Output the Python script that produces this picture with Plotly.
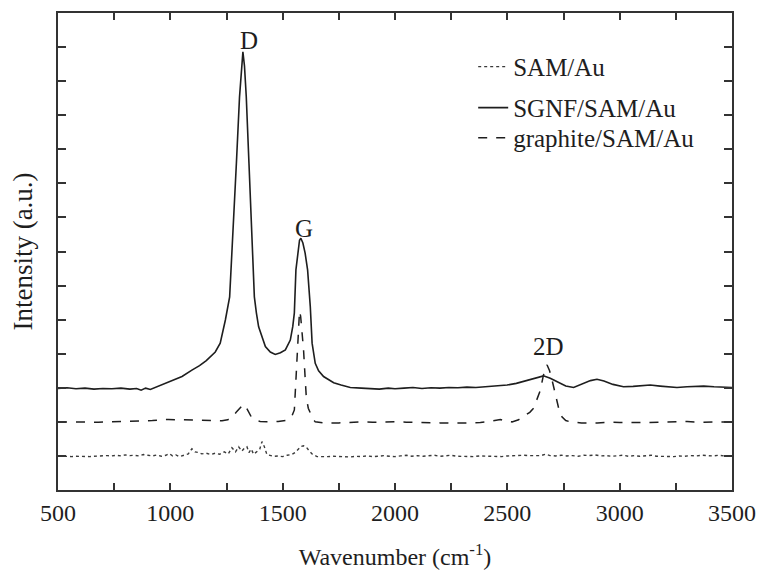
import plotly.graph_objects as go

# ---------------- data ----------------
sgnf_x = [500, 540, 580, 620, 660, 700, 740, 780, 820, 850, 870, 890, 911, 940, 978, 1010,
          1052, 1096, 1130, 1160, 1178, 1200, 1222, 1245, 1264, 1280, 1294, 1308, 1316, 1323,
          1330, 1338, 1350, 1362, 1374, 1383, 1393, 1423, 1445, 1467, 1490, 1512, 1534, 1545,
          1552, 1559, 1568, 1575, 1581, 1590, 1600, 1611, 1623, 1631, 1645, 1660, 1682, 1700,
          1727, 1760, 1801, 1850, 1890, 1930, 1970, 2000, 2040, 2080, 2120, 2160, 2200, 2240,
          2280, 2320, 2360, 2400, 2440, 2499, 2540, 2580, 2620, 2661, 2691, 2720, 2760, 2795,
          2830, 2870, 2899, 2930, 2970, 3017, 3060, 3100, 3136, 3180, 3220, 3255, 3300, 3340,
          3374, 3420, 3460, 3500]
sgnf_y = [2.98, 3.00, 2.97, 2.99, 2.96, 2.98, 2.97, 2.99, 2.96, 2.98, 2.93, 2.99, 2.95, 3.03,
          3.13, 3.22, 3.33, 3.52, 3.65, 3.80, 3.91, 4.05, 4.31, 4.99, 5.67, 7.60, 9.59, 11.54,
          12.40, 12.86, 12.45, 11.54, 9.59, 7.60, 5.67, 5.20, 4.79, 4.21, 4.05, 3.98, 4.03,
          4.11, 4.40, 4.80, 5.20, 6.46, 7.05, 7.33, 7.39, 7.25, 6.95, 6.46, 5.38, 4.31, 3.72,
          3.50, 3.33, 3.25, 3.15, 3.08, 3.01, 2.99, 2.98, 2.96, 2.99, 2.97, 2.99, 3.01, 2.98,
          3.00, 2.99, 3.01, 3.00, 3.02, 3.01, 3.03, 3.04, 3.08, 3.13, 3.20, 3.28, 3.35, 3.28,
          3.18, 3.05, 3.01, 3.10, 3.21, 3.25, 3.20, 3.10, 3.03, 3.04, 3.07, 3.08, 3.05, 3.03,
          3.01, 3.03, 3.05, 3.05, 3.03, 3.02, 3.01]

graphite_x = [500, 560, 620, 680, 740, 800, 860, 920, 991, 1050, 1110, 1170, 1230, 1255, 1274,
              1295, 1315, 1326, 1340, 1360, 1378, 1400, 1430, 1480, 1520, 1540, 1552, 1558,
              1564, 1570, 1575, 1580, 1586, 1593, 1600, 1605, 1614, 1623, 1635, 1645, 1697,
              1750, 1800, 1850, 1900, 1950, 2000, 2050, 2100, 2150, 2200, 2260, 2320, 2380,
              2430, 2469, 2500, 2521, 2550, 2572, 2600, 2617, 2635, 2647, 2660, 2670, 2677,
              2688, 2699, 2710, 2721, 2732, 2743, 2760, 2780, 2830, 2900, 2960, 3000, 3060,
              3120, 3180, 3240, 3300, 3360, 3420, 3500]
graphite_y = [2.00, 1.99, 2.00, 1.99, 2.00, 2.01, 2.02, 2.04, 2.07, 2.06, 2.04, 2.03, 2.03,
              2.06, 2.12, 2.30, 2.45, 2.52, 2.40, 2.15, 2.05, 2.01, 2.00, 2.01, 2.05, 2.15,
              2.35, 3.20, 4.11, 4.90, 5.25, 5.10, 4.70, 4.11, 3.30, 2.74, 2.40, 2.25, 2.08,
              2.00, 1.96, 1.97, 1.99, 2.00, 1.99, 2.00, 2.00, 1.99, 1.99, 1.98, 1.97, 1.96,
              1.96, 1.98, 2.02, 2.07, 2.02, 2.00, 2.06, 2.15, 2.28, 2.40, 2.70, 2.93, 3.35,
              3.60, 3.67, 3.50, 3.23, 2.90, 2.54, 2.30, 2.15, 2.04, 2.00, 1.97, 1.97, 1.99,
              1.98, 1.97, 1.98, 1.99, 2.00, 2.01, 1.99, 1.99, 2.00]

sam_x = [500, 520, 540, 560, 580, 600, 620, 640, 660, 680, 700, 720, 740, 760, 780, 800, 820,
         840, 860, 880, 900, 920, 940, 960, 980, 995, 1010, 1025, 1040, 1060, 1080, 1096, 1110,
         1125, 1140, 1160, 1180, 1200, 1220, 1240, 1258, 1274, 1290, 1304, 1318, 1330, 1341,
         1350, 1360, 1371, 1385, 1398, 1408, 1418, 1430, 1445, 1460, 1480, 1500, 1520, 1540,
         1555, 1570, 1582, 1593, 1605, 1618, 1632, 1653, 1675,
         1700, 1725, 1750, 1775, 1800, 1825, 1850, 1875, 1900, 1925, 1950, 1975, 2000, 2025,
         2050, 2075, 2100, 2125, 2150, 2175, 2200, 2225, 2250, 2275, 2300, 2325, 2350, 2375,
         2400, 2425, 2450, 2475, 2500, 2525, 2550, 2575, 2600, 2625, 2650, 2670, 2690, 2715,
         2740, 2765, 2790, 2815, 2840, 2865, 2890, 2915, 2940, 2965, 2990, 3015, 3040, 3065,
         3090, 3115, 3140, 3165, 3190, 3215, 3240, 3265, 3290, 3315, 3340, 3365, 3390, 3415,
         3440, 3465, 3500]
sam_y = [1.00, 0.99, 1.00, 0.98, 0.99, 0.98, 0.99, 0.98, 0.99, 1.00, 0.99, 1.01, 1.00, 1.02,
         1.00, 1.03, 1.01, 1.02, 1.00, 1.04, 1.02, 1.00, 1.03, 0.99, 1.02, 1.07, 1.00, 1.03,
         0.98, 1.02, 1.06, 1.21, 1.12, 1.10, 1.06, 1.08, 1.04, 1.08, 1.05, 1.12, 1.06, 1.24,
         1.12, 1.27, 1.14, 1.23, 1.27, 1.10, 1.20, 1.05, 1.12, 1.20, 1.42, 1.28, 1.04, 1.02,
         0.99, 1.00, 0.98, 1.02, 1.04, 1.10, 1.20, 1.28, 1.30, 1.26, 1.15, 1.05, 0.98, 0.99,
         0.98, 0.99, 0.98, 0.99, 0.97, 0.99, 0.98, 1.00, 0.98, 0.99, 1.01, 0.99, 0.98, 1.00,
         1.02, 0.99, 1.01, 0.99, 1.00, 1.02, 0.99, 1.00, 1.02, 0.99, 0.98, 0.99, 0.98, 1.00,
         0.99, 1.00, 0.99, 0.98, 1.00, 1.01, 1.00, 1.02, 1.01, 1.02, 1.01, 1.05, 1.01, 1.00,
         1.02, 1.00, 1.01, 0.99, 1.02, 1.01, 1.03, 1.00, 1.01, 0.99, 1.00, 1.02, 0.99, 1.01,
         0.99, 1.00, 1.02, 0.99, 0.98, 0.99, 0.98, 1.00, 0.99, 1.01, 1.00, 1.02, 1.01, 1.00,
         1.02, 1.00, 1.01]

peak_labels = ["D", "G", "2D"]
peak_x = [1348, 1596, 2684]
peak_y = [13.2, 7.68, 4.2]

x_ticks = [500, 1000, 1500, 2000, 2500, 3000, 3500]

FONT = "Liberation Serif, Times New Roman, DejaVu Serif, serif"
INK = "#1e1e1e"

fig = go.Figure()
fig.add_trace(go.Scatter(x=sam_x, y=sam_y, mode="lines", name="SAM/Au",
                         legend="legend",
                         line=dict(color="#3a3a3a", width=1.4, dash="dot")))
fig.add_trace(go.Scatter(x=sgnf_x, y=sgnf_y, mode="lines", name="SGNF/SAM/Au",
                         legend="legend2",
                         line=dict(color=INK, width=1.6)))
fig.add_trace(go.Scatter(x=graphite_x, y=graphite_y, mode="lines", name="graphite/SAM/Au",
                         legend="legend3",
                         line=dict(color=INK, width=1.5, dash="dash")))

for t, xx, yy in zip(peak_labels, peak_x, peak_y):
    fig.add_annotation(x=xx, y=yy, text=t, showarrow=False,
                       font=dict(family=FONT, size=25, color=INK))

leg_common = dict(x=0.616, xanchor="left", yanchor="middle",
                  bgcolor="rgba(0,0,0,0)", borderwidth=0,
                  font=dict(family=FONT, size=25, color=INK))

fig.update_layout(
    width=760, height=570,
    margin=dict(l=58, r=28, t=13, b=80),
    paper_bgcolor="white", plot_bgcolor="white",
    font=dict(family=FONT, size=24, color=INK),
    showlegend=True,
    legend=dict(y=0.887, **leg_common),
    legend2=dict(y=0.801, **leg_common),
    legend3=dict(y=0.738, **leg_common),
    xaxis=dict(range=[500, 3500], tickvals=x_ticks, automargin=False,
               ticks="inside", ticklen=7, tickwidth=1.5, tickcolor="#333",
               minor=dict(dtick=250, tick0=500, ticks="inside", ticklen=7,
                          tickwidth=1.5, tickcolor="#333"),
               showline=True, linecolor="#333", linewidth=2, mirror="ticks",
               showgrid=False, zeroline=False,
               tickfont=dict(family=FONT, size=24, color=INK),
               title=dict(text="Wavenumber (cm<sup>-1</sup>)",
                          font=dict(family=FONT, size=24, color=INK), standoff=24)),
    yaxis=dict(range=[0, 14], dtick=1, tick0=0, showticklabels=False, automargin=False,
               ticks="inside", ticklen=8, tickwidth=1.5, tickcolor="#333",
               showline=True, linecolor="#333", linewidth=2, mirror="ticks",
               showgrid=False, zeroline=False,
               title=dict(text="Intensity (a.u.)",
                          font=dict(family=FONT, size=27, color=INK), standoff=16)),
)

fig.write_html("out.html")
